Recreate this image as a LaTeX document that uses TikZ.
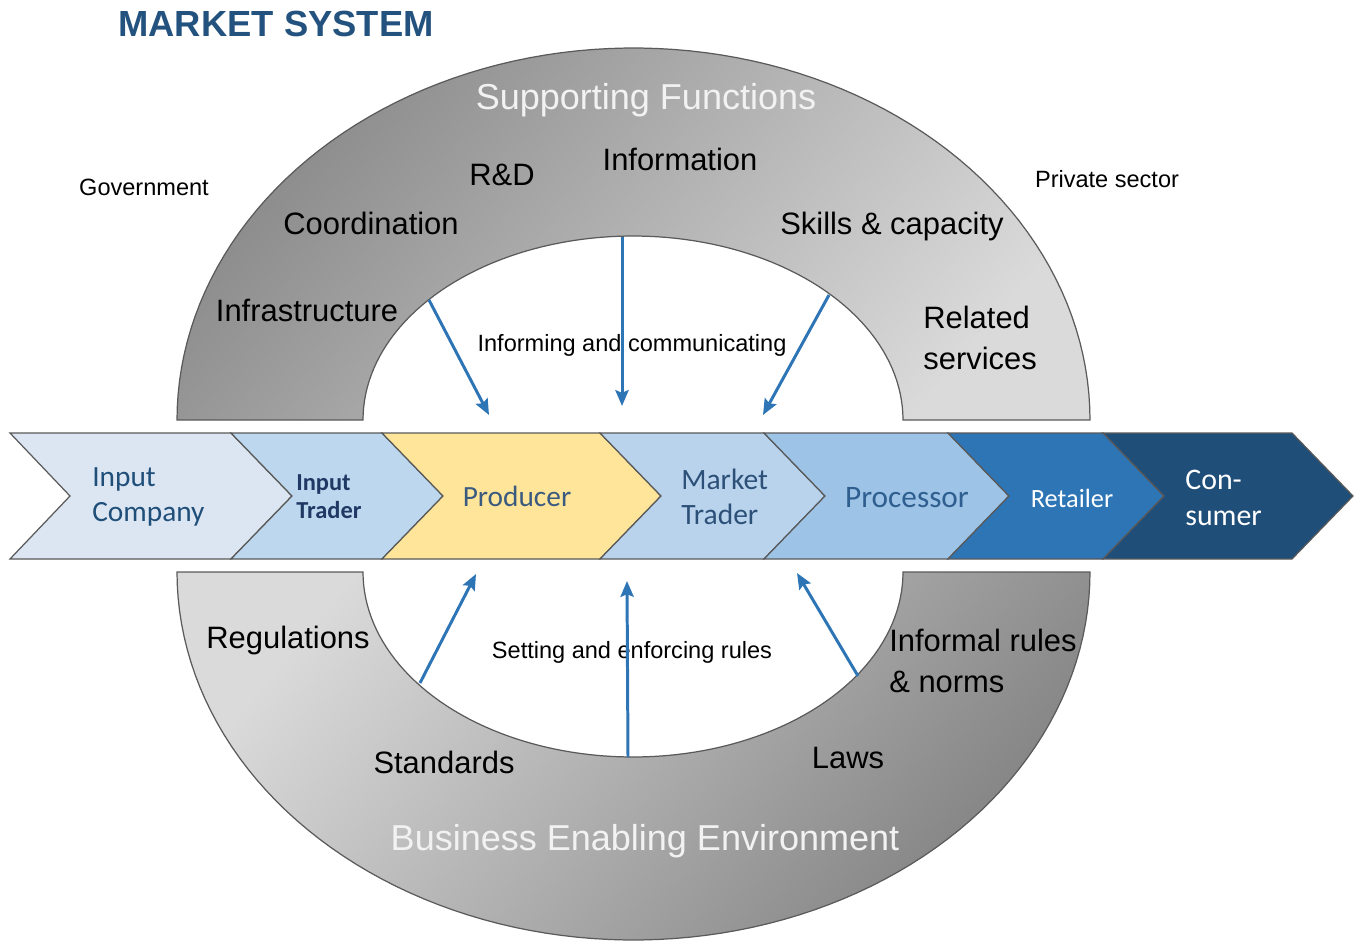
\documentclass[tikz,border=0pt]{standalone}
\usepackage{fontspec}
\setmainfont{Liberation Sans}
\newfontfamily\calib{Carlito}
\usetikzlibrary{arrows.meta}
\definecolor{titleblue}{HTML}{24527F}
\definecolor{arrowblue}{HTML}{2E75B6}
\definecolor{chevline}{HTML}{595959}
\definecolor{archline}{HTML}{5A5A5A}
\definecolor{cA}{HTML}{DCE6F2}
\definecolor{cB}{HTML}{BDD7EE}
\definecolor{cC}{HTML}{FEE599}
\definecolor{cD}{HTML}{B9D3EC}
\definecolor{cE}{HTML}{9DC3E6}
\definecolor{cF}{HTML}{2E75B6}
\definecolor{cG}{HTML}{1F4E79}
\definecolor{tA}{HTML}{1F4E79}
\definecolor{tB}{HTML}{1F3864}
\definecolor{tC}{HTML}{3A5A80}
\definecolor{tD}{HTML}{2C5078}
\definecolor{tE}{HTML}{2F5F90}
\definecolor{darkarch}{HTML}{8A8A8A}
\definecolor{lightarch}{HTML}{DADADA}
\tikzset{
  chev/.style={draw=chevline, line width=0.7pt},
  archtop/.style={draw=archline, line width=0.7pt, top color=darkarch, bottom color=lightarch, shading angle=50},
  archbot/.style={draw=archline, line width=0.7pt, top color=lightarch, bottom color=darkarch!95!black, shading angle=50},
  big/.style={font=\fontsize{17.6}{23.5}\selectfont, text=black, inner sep=0pt, align=left},
  small/.style={font=\fontsize{13.4}{16}\selectfont, text=black, inner sep=0pt},
  head/.style={font=\fontsize{20.5}{24}\selectfont, text=white!95!black, inner sep=0pt},
  ctext/.style={font=\calib\fontsize{16.7}{19.8}\selectfont, inner sep=0pt, align=left},
  flow/.style={draw=arrowblue, line width=1.7pt, -{Stealth[length=9pt,width=7.5pt,inset=1.5pt]}}
}
\begin{document}
\begin{tikzpicture}[x=0.02cm,y=-0.02cm]
\useasboundingbox (0,0) rectangle (1359,943);

% title
\node[font=\bfseries\fontsize{20.7}{24}\selectfont, text=titleblue, inner sep=0pt] (title) at (276,24) {MARKET SYSTEM};

% arches
\path[archtop] plot[domain=180:0,samples=90] ({633.5+456.5*cos(\x)},{420-372*sin(\x)})
  -- (903,420) -- plot[domain=0:180,samples=90] ({633+270*cos(\x)},{420-184*sin(\x)}) -- cycle;
\path[archbot] plot[domain=180:360,samples=90] ({633.5+456.5*cos(\x)},{572-368*sin(\x)})
  -- (903,572) -- plot[domain=360:180,samples=90] ({633+270*cos(\x)},{572-185*sin(\x)}) -- cycle;

% chevrons
\path[chev, fill=cA] (10,433) -- (231,433) -- (292,496) -- (231,559) -- (10,559) -- (70,496) -- cycle;
\path[chev, fill=cB] (231,433) -- (382,433) -- (443,496) -- (382,559) -- (231,559) -- (292,496) -- cycle;
\path[chev, fill=cC] (382,433) -- (600,433) -- (661,496) -- (600,559) -- (382,559) -- (443,496) -- cycle;
\path[chev, fill=cD] (600,433) -- (764,433) -- (825,496) -- (764,559) -- (600,559) -- (661,496) -- cycle;
\path[chev, fill=cE] (764,433) -- (948,433) -- (1009,496) -- (948,559) -- (764,559) -- (825,496) -- cycle;
\path[chev, fill=cF] (948,433) -- (1103,433) -- (1164,496) -- (1103,559) -- (948,559) -- (1009,496) -- cycle;
\path[chev, fill=cG] (1103,433) -- (1292,433) -- (1353,496) -- (1292,559) -- (1103,559) -- (1164,496) -- cycle;

% chevron labels
\node[ctext, text=tA, anchor=west] (inco) at (92,497) {Input\\Company};
\node[ctext, text=tB, anchor=west, font=\calib\bfseries\fontsize{13.9}{15.9}\selectfont] (intr) at (296,497) {Input\\Trader};
\node[ctext, text=tC] (prod) at (517,496) {Producer};
\node[ctext, text=tD, anchor=west, font=\calib\fontsize{16.8}{19.8}\selectfont] (mktr) at (681,497) {Market\\Trader};
\node[ctext, text=tE, font=\calib\fontsize{17.8}{20}\selectfont] (proc) at (907,498) {Processor};
\node[ctext, text=white, font=\calib\fontsize{15}{18}\selectfont] (reta) at (1072,498) {Retailer};
\node[ctext, text=white, anchor=west, font=\calib\fontsize{17}{20.4}\selectfont] (cons) at (1185,498) {Con-\\sumer};

% side labels
\node[small] (gov) at (144,187) {Government};
\node[small] (priv) at (1107,179) {Private sector};

% top arch labels
\node[head] (supp) at (646,100) {Supporting Functions};
\node[big] (rd) at (502,175) {R\&D};
\node[big] (info) at (680,159) {Information};
\node[big] (coord) at (371,223) {Coordination};
\node[big] (skills) at (892,227) {Skills \& capacity};
\node[big] (infra) at (307,310) {Infrastructure};
\node[big, anchor=west, font=\fontsize{17.6}{23.2}\selectfont] (rel) at (923,338) {Related\\services};
\node[small] (infcom) at (632,345) {Informing and communicating};

% bottom arch labels
\node[big] (regs) at (288,640) {Regulations};
\node[small] (setenf) at (632,652) {Setting and enforcing rules};
\node[big, anchor=west, font=\fontsize{17.6}{23.8}\selectfont] (infr) at (889,661) {Informal rules\\\& norms};
\node[big] (stds) at (444,762) {Standards};
\node[big] (laws) at (848,758) {Laws};
\node[head] (bee) at (645,841) {Business Enabling Environment};

% arrow end points
\coordinate (s1) at (429,300); \coordinate (e1) at (489,415);
\coordinate (s2) at (622,237); \coordinate (e2) at (622,406);
\coordinate (s3) at (829,295); \coordinate (e3) at (763,415);
\coordinate (s4) at (420,683); \coordinate (e4) at (476,574);
\coordinate (s5) at (628,757); \coordinate (e5) at (627,581);
\coordinate (s6) at (858,676); \coordinate (e6) at (797,573);

\draw[flow] (s1) -- (e1);
\draw[flow] (s2) -- (e2);
\draw[flow] (s3) -- (e3);
\draw[flow] (s4) -- (e4);
\draw[flow] (s5) -- (e5);
\draw[flow] (s6) -- (e6);
\end{tikzpicture}
\end{document}
